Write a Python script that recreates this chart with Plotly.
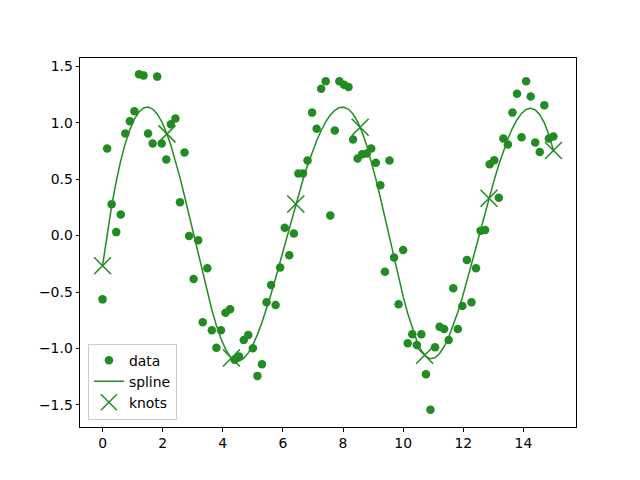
import numpy as np
import plotly.graph_objects as go

x_data = [0.000, 0.152, 0.303, 0.455, 0.606, 0.758, 0.909, 1.061, 1.212, 1.364,
          1.515, 1.667, 1.818, 1.970, 2.121, 2.273, 2.424, 2.576, 2.727, 2.879,
          3.030, 3.182, 3.333, 3.485, 3.636, 3.788, 3.939, 4.091, 4.242, 4.394,
          4.545, 4.697, 4.848, 5.000, 5.152, 5.303, 5.455, 5.606, 5.758, 5.909,
          6.061, 6.212, 6.364, 6.515, 6.667, 6.818, 6.970, 7.121, 7.273, 7.424,
          7.576, 7.727, 7.879, 8.030, 8.182, 8.333, 8.485, 8.636, 8.788, 8.939,
          9.091, 9.242, 9.394, 9.545, 9.697, 9.848, 10.000, 10.152, 10.303, 10.455,
          10.606, 10.758, 10.909, 11.061, 11.212, 11.364, 11.515, 11.667, 11.818, 11.970,
          12.121, 12.273, 12.424, 12.576, 12.727, 12.879, 13.030, 13.182, 13.333, 13.485,
          13.636, 13.788, 13.939, 14.091, 14.242, 14.394, 14.545, 14.697, 14.848, 15.000]

y_data = [-0.565, 0.772, 0.279, 0.031, 0.187, 0.904, 1.013, 1.102, 1.429, 1.420,
          0.904, 0.816, 1.409, 0.816, 0.674, 0.987, 1.037, 0.296, 0.736, -0.004,
          -0.385, -0.040, -0.768, -0.290, -0.839, -0.993, -0.839, -0.683, -0.653, -1.100,
          -1.072, -0.925, -0.880, -0.998, -1.243, -1.140, -0.591, -0.438, -0.615, -0.282,
          0.069, -0.175, 0.019, 0.550, 0.550, 0.665, 1.090, 0.948, 1.302, 1.367,
          0.178, 0.931, 1.367, 1.338, 1.317, 0.851, 0.683, 0.721, 0.727, 0.772,
          0.645, 0.447, -0.320, 0.665, -0.193, -0.609, -0.128, -0.954, -0.875, -0.969,
          -0.875, -1.229, -1.544, -0.989, -0.807, -0.827, -0.925, -0.467, -0.827, -0.624,
          -0.217, -0.591, -0.290, 0.043, 0.049, 0.633, 0.668, 0.335, 0.860, 0.807,
          1.090, 1.258, 0.872, 1.367, 1.232, 0.825, 0.742, 1.155, 0.860, 0.878]

knots = [0.0, 2.143, 4.286, 6.429, 8.571, 10.714, 12.857, 15.0]
degree = 3

x_tick_vals = [0, 2, 4, 6, 8, 10, 12, 14]
y_tick_vals = [-1.5, -1.0, -0.5, 0.0, 0.5, 1.0, 1.5]

COLOR = "#228B22"


def bspline_basis(x, t, k):
    x = np.asarray(x, float)
    t = np.asarray(t, float)
    m = len(t) - 1
    B = np.zeros((len(x), m))
    last = max(j for j in range(m) if t[j] < t[j + 1])
    for j in range(m):
        if t[j] < t[j + 1]:
            B[:, j] = ((x >= t[j]) & (x < t[j + 1])).astype(float)
    B[x >= t[-1], last] = 1.0
    for d in range(1, k + 1):
        Bn = np.zeros((len(x), m - d))
        for j in range(m - d):
            den1 = t[j + d] - t[j]
            den2 = t[j + d + 1] - t[j + 1]
            a = (x - t[j]) / den1 * B[:, j] if den1 > 0 else 0.0
            b = (t[j + d + 1] - x) / den2 * B[:, j + 1] if den2 > 0 else 0.0
            Bn[:, j] = a + b
        B = Bn
    return B


# least-squares cubic spline with the given knots, fitted to the data
tvec = [knots[0]] * degree + knots + [knots[-1]] * degree
A = bspline_basis(x_data, tvec, degree)
coef, *_ = np.linalg.lstsq(A, np.asarray(y_data), rcond=None)
spline_y = A @ coef
knot_y = bspline_basis(knots, tvec, degree) @ coef

fig = go.Figure()
fig.add_trace(go.Scatter(x=x_data, y=y_data, mode="markers", name="data",
                         marker=dict(color=COLOR, size=8.5, line=dict(width=0))))
fig.add_trace(go.Scatter(x=x_data, y=spline_y, mode="lines", name="spline",
                         line=dict(color=COLOR, width=1.5)))
fig.add_trace(go.Scatter(x=knots, y=knot_y, mode="markers", name="knots",
                         marker=dict(symbol="x-thin", size=17, color=COLOR,
                                     line=dict(color=COLOR, width=1.5))))

axis_common = dict(showgrid=False, zeroline=False, showline=True, linecolor="black",
                   linewidth=1, mirror=True, ticks="outside", ticklen=3.5,
                   tickwidth=1, tickcolor="black",
                   tickfont=dict(family="DejaVu Sans", size=13.9, color="black"))

fig.update_layout(
    width=640, height=480,
    margin=dict(l=80, r=64, t=58, b=53),
    plot_bgcolor="white", paper_bgcolor="white",
    font=dict(family="DejaVu Sans", size=13.9, color="black"),
    xaxis=dict(range=[-0.75, 15.75], tickvals=x_tick_vals, **axis_common),
    yaxis=dict(range=[-1.696, 1.574], tickvals=y_tick_vals, tickformat=".1f", **axis_common),
    legend=dict(x=0.016, y=0.02, xanchor="left", yanchor="bottom",
                bordercolor="#cccccc", borderwidth=1, bgcolor="rgba(255,255,255,0.8)",
                font=dict(family="DejaVu Sans", size=13.9), tracegroupgap=0,
                itemwidth=30),
    showlegend=True,
)

fig.write_html("out.html")
